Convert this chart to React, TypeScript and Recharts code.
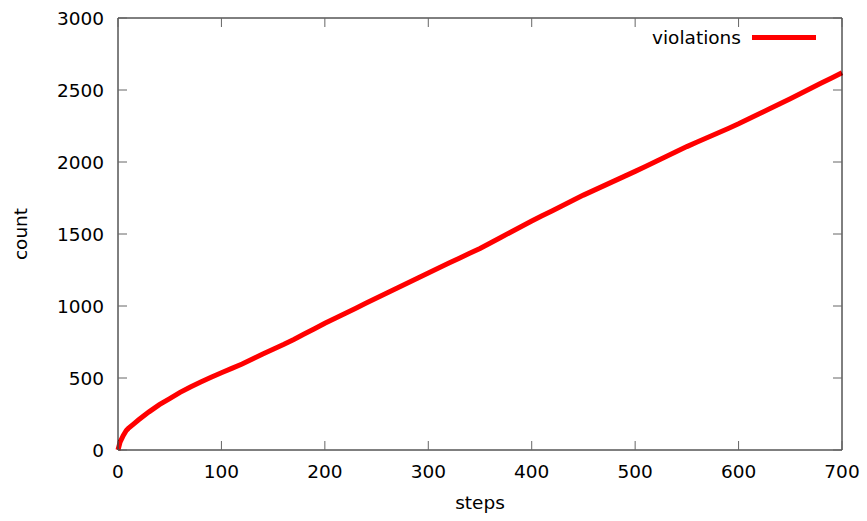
import { LineChart, Line, XAxis, YAxis } from 'recharts'

const steps = [
  0, 2, 5, 8, 10, 15, 20, 25, 30, 40, 50, 60, 70, 80, 90, 100, 110, 120, 130, 140, 150, 160, 170, 180, 190,
  200, 210, 220, 230, 240, 250, 260, 270, 280, 290, 300, 310, 320, 330, 340, 350, 360, 370, 380, 390,
  400, 410, 420, 430, 440, 450, 460, 470, 480, 490, 500, 510, 520, 530, 540, 550, 560, 570, 580, 590,
  600, 610, 620, 630, 640, 650, 660, 670, 680, 690, 700,
]

const violations = [
  0, 55, 100, 135, 150, 180, 210, 238, 265, 315, 357, 400, 438, 472, 505, 537, 567, 597, 632, 667, 700, 733, 768, 805, 842,
  880, 915, 950, 985, 1020, 1055, 1090, 1125, 1160, 1195, 1230, 1264, 1298, 1332, 1366, 1400, 1438, 1476, 1514, 1552,
  1590, 1626, 1662, 1698, 1734, 1770, 1803, 1836, 1869, 1902, 1935, 1969, 2004, 2038, 2073, 2107, 2139, 2170, 2202, 2233,
  2265, 2300, 2335, 2370, 2405, 2440, 2476, 2512, 2548, 2584, 2620,
]

const xTicks = [0, 100, 200, 300, 400, 500, 600, 700]
const yTicks = [0, 500, 1000, 1500, 2000, 2500, 3000]

const data = steps.map((s, i) => ({ steps: s, violations: violations[i] }))

const FONT = 'DejaVu Sans'
const FONT_SIZE = 18.5
const TICK_LEN = 9
const TICK_COLOR = '#666'
// plot box size (chart size minus the axis bands), used for the mirrored ticks
const PLOT_W = 867 - 118 - 25
const PLOT_H = 521 - 18 - 71

function BottomTick({ x, y, payload }: any) {
  return (
    <g>
      <line x1={x} y1={y} x2={x} y2={y - TICK_LEN} stroke={TICK_COLOR} />
      <line x1={x} y1={y - PLOT_H} x2={x} y2={y - PLOT_H + TICK_LEN} stroke={TICK_COLOR} />
      <text x={x} y={y + 28} textAnchor="middle" fontFamily={FONT} fontSize={FONT_SIZE} fill="#000">
        {payload.value}
      </text>
    </g>
  )
}

function LeftTick({ x, y, payload }: any) {
  return (
    <g>
      <line x1={x} y1={y} x2={x + TICK_LEN} y2={y} stroke={TICK_COLOR} />
      <line x1={x + PLOT_W} y1={y} x2={x + PLOT_W - TICK_LEN} y2={y} stroke={TICK_COLOR} />
      <text x={x - 14} y={y + 6.8} textAnchor="end" fontFamily={FONT} fontSize={FONT_SIZE} fill="#000">
        {payload.value}
      </text>
    </g>
  )
}

export default function App() {
  return (
    <div style={{ position: 'absolute', left: 0, top: 0, width: 867, height: 521 }}>
      <LineChart
        width={867}
        height={521}
        data={data}
        margin={{ top: 0, right: 0, bottom: 0, left: 0 }}
        style={{ fontFamily: FONT }}
      >
        <XAxis
          xAxisId="bottom"
          dataKey="steps"
          type="number"
          domain={[0, 700]}
          ticks={xTicks}
          height={71}
          tickSize={0}
          tickMargin={0}
          tickLine={false}
          axisLine={{ stroke: '#000' }}
          tick={<BottomTick />}
          label={{ value: 'steps', position: 'insideBottom', offset: 12, fill: '#000', fontSize: FONT_SIZE }}
        />
        <XAxis
          xAxisId="top"
          orientation="top"
          dataKey="steps"
          type="number"
          domain={[0, 700]}
          ticks={xTicks}
          height={18}
          tick={false}
          tickLine={false}
          axisLine={{ stroke: '#000' }}
        />
        <YAxis
          yAxisId="left"
          type="number"
          domain={[0, 3000]}
          ticks={yTicks}
          width={118}
          tickSize={0}
          tickMargin={0}
          tickLine={false}
          axisLine={{ stroke: '#000' }}
          tick={<LeftTick />}
          label={{ value: 'count', angle: -90, position: 'insideLeft', offset: 20, fill: '#000', fontSize: FONT_SIZE, style: { textAnchor: 'middle' } }}
        />
        <YAxis
          yAxisId="right"
          orientation="right"
          type="number"
          domain={[0, 3000]}
          ticks={yTicks}
          width={25}
          tick={false}
          tickLine={false}
          axisLine={{ stroke: '#000' }}
        />
        <Line
          xAxisId="bottom"
          yAxisId="left"
          type="linear"
          dataKey="violations"
          stroke="#ff0000"
          strokeWidth={5}
          dot={false}
          isAnimationActive={false}
        />
      </LineChart>
      <div
        style={{
          position: 'absolute',
          left: 652,
          top: 27,
          display: 'flex',
          alignItems: 'center',
          fontFamily: FONT,
          fontSize: FONT_SIZE,
          color: '#000',
        }}
      >
        <span>violations</span>
        <span style={{ display: 'inline-block', width: 64, height: 5, background: '#ff0000', marginLeft: 11 }} />
      </div>
    </div>
  )
}
